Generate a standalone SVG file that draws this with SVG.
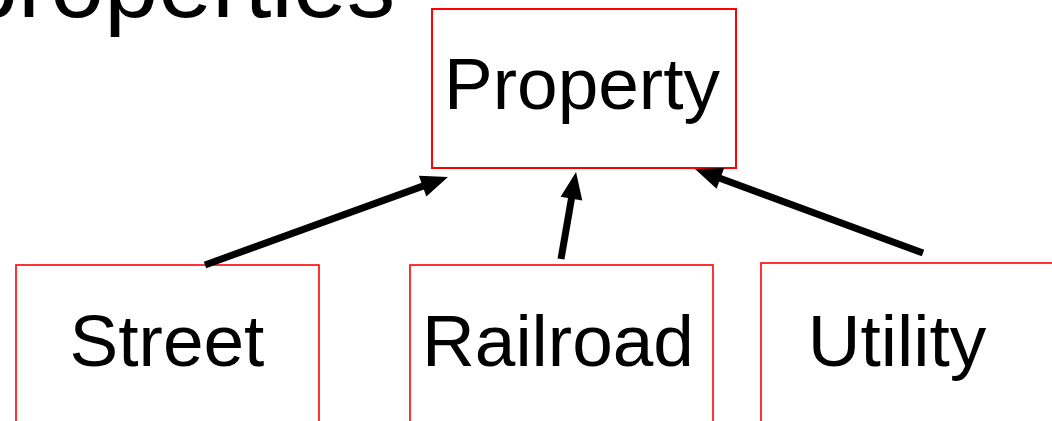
<svg xmlns="http://www.w3.org/2000/svg" width="1052" height="421" viewBox="0 0 1052 421">
  <style>
    .box { fill: #ffffff; stroke: #ff0000; stroke-width: 1.6; }
    .lbl { font-family: "Liberation Sans", Arial, sans-serif; font-size: 73px; fill: #000000; text-anchor: middle; }
    .title { font-family: "Liberation Sans", Arial, sans-serif; font-size: 97px; fill: #000000; }
    .conn { stroke: #000000; stroke-width: 7; fill: none; marker-end: url(#head); }
  </style>
  <defs>
    <marker id="head" markerUnits="userSpaceOnUse" markerWidth="27" markerHeight="22" refX="12" refY="11" orient="auto" overflow="visible">
      <path d="M0,0 L27,11 L0,22 z" fill="#000000"/>
    </marker>
  </defs>
  <rect width="1052" height="421" fill="#ffffff"/>
  <text class="title" x="-36" y="17">properties</text>
  <g id="node-property">
    <rect class="box" x="432" y="9" width="304" height="159" style="stroke-width:2"/>
    <text class="lbl" x="582" y="109">Property</text>
  </g>
  <g id="node-street">
    <rect class="box" x="16" y="265" width="303" height="170"/>
    <text class="lbl" x="167" y="366">Street</text>
  </g>
  <g id="node-railroad">
    <rect class="box" x="410" y="265" width="303" height="170"/>
    <text class="lbl" x="558" y="366">Railroad</text>
  </g>
  <g id="node-utility">
    <rect class="box" x="761" y="263" width="310" height="172"/>
    <text class="lbl" x="897" y="366">Utility</text>
  </g>
  <g id="connectors">
    <line class="conn" x1="205" y1="265" x2="433.9" y2="182.1"/>
    <line class="conn" x1="561" y1="259" x2="573.5" y2="186.8"/>
    <line class="conn" x1="923" y1="253" x2="709.1" y2="174.2"/>
  </g>
</svg>
